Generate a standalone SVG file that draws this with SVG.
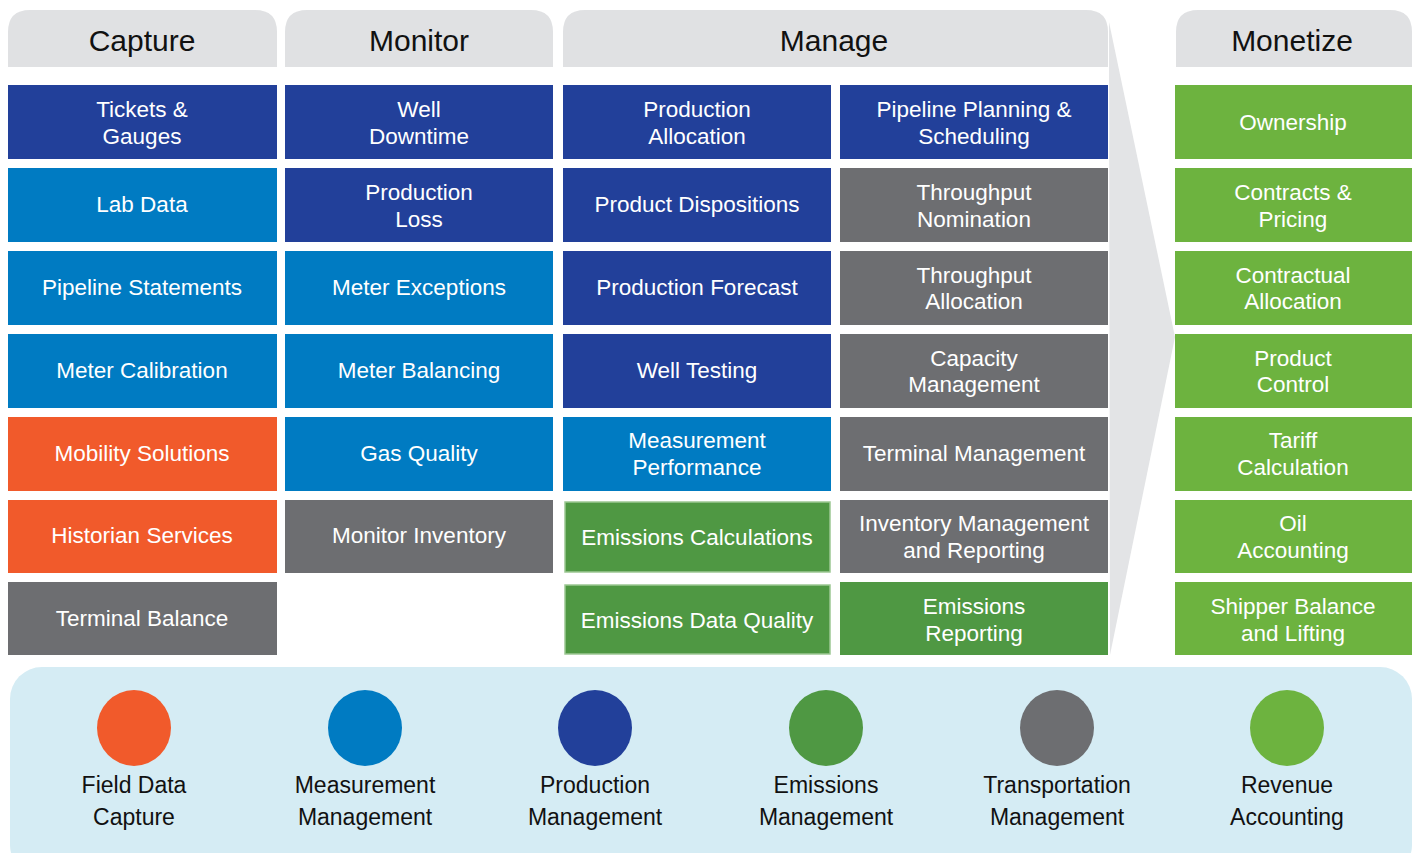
<svg xmlns="http://www.w3.org/2000/svg" width="1418" height="853" viewBox="0 0 1418 853">
<style>
.hdr{fill:#e0e1e3}
.ht{font-family:"Liberation Sans",Arial,sans-serif;font-size:30px;fill:#111;text-anchor:middle}
.bt{font-family:"Liberation Sans",Arial,sans-serif;font-size:22.5px;fill:#fff;text-anchor:middle}
.lt{font-family:"Liberation Sans",Arial,sans-serif;font-size:23px;fill:#111;text-anchor:middle}
.db{fill:#22409a}.mb{fill:#007bc2}.or{fill:#f15a2b}.gy{fill:#6d6e71}.eg{fill:#4f9843}.rg{fill:#6db33f}
.eb{stroke:#9cc793;stroke-width:1.5}
</style>
<rect width="1418" height="853" fill="#fff"/>
<g id="headers">
<path class="hdr" d="M8 67V32Q8 10 30 10H255Q277 10 277 32V67Z"/>
<text class="ht" x="142" y="51">Capture</text>
<path class="hdr" d="M285 67V32Q285 10 307 10H531Q553 10 553 32V67Z"/>
<text class="ht" x="419" y="51">Monitor</text>
<path class="hdr" d="M563 67V32Q563 10 585 10H1086Q1108 10 1108 32V67Z"/>
<text class="ht" x="834" y="51">Manage</text>
<path class="hdr" d="M1176 67V32Q1176 10 1198 10H1390Q1412 10 1412 32V67Z"/>
<text class="ht" x="1292" y="51">Monetize</text>
</g>
<polygon id="arrow" points="1109,22 1175,337 1110,655" fill="#e3e4e6"/>
<g id="capture">
<g id="n-tickets"><rect class="db" x="8" y="85" width="269" height="74"/><text class="bt" x="142" y="117">Tickets &amp;</text><text class="bt" x="142" y="144">Gauges</text></g>
<g id="n-lab"><rect class="mb" x="8" y="168" width="269" height="74"/><text class="bt" x="142" y="212">Lab Data</text></g>
<g id="n-pipeline-statements"><rect class="mb" x="8" y="251" width="269" height="74"/><text class="bt" x="142" y="295">Pipeline Statements</text></g>
<g id="n-meter-cal"><rect class="mb" x="8" y="334" width="269" height="74"/><text class="bt" x="142" y="378">Meter Calibration</text></g>
<g id="n-mobility"><rect class="or" x="8" y="417" width="269" height="74"/><text class="bt" x="142" y="461">Mobility Solutions</text></g>
<g id="n-historian"><rect class="or" x="8" y="500" width="269" height="73"/><text class="bt" x="142" y="543">Historian Services</text></g>
<g id="n-terminal-balance"><rect class="gy" x="8" y="582" width="269" height="73"/><text class="bt" x="142" y="626">Terminal Balance</text></g>
</g>
<g id="monitor">
<g id="n-well-downtime"><rect class="db" x="285" y="85" width="268" height="74"/><text class="bt" x="419" y="117">Well</text><text class="bt" x="419" y="144">Downtime</text></g>
<g id="n-prod-loss"><rect class="db" x="285" y="168" width="268" height="74"/><text class="bt" x="419" y="200">Production</text><text class="bt" x="419" y="227">Loss</text></g>
<g id="n-meter-exc"><rect class="mb" x="285" y="251" width="268" height="74"/><text class="bt" x="419" y="295">Meter Exceptions</text></g>
<g id="n-meter-bal"><rect class="mb" x="285" y="334" width="268" height="74"/><text class="bt" x="419" y="378">Meter Balancing</text></g>
<g id="n-gas-quality"><rect class="mb" x="285" y="417" width="268" height="74"/><text class="bt" x="419" y="461">Gas Quality</text></g>
<g id="n-monitor-inv"><rect class="gy" x="285" y="500" width="268" height="73"/><text class="bt" x="419" y="543">Monitor Inventory</text></g>
</g>
<g id="manage">
<g id="n-prod-alloc"><rect class="db" x="563" y="85" width="268" height="74"/><text class="bt" x="697" y="117">Production</text><text class="bt" x="697" y="144">Allocation</text></g>
<g id="n-prod-disp"><rect class="db" x="563" y="168" width="268" height="74"/><text class="bt" x="697" y="212">Product Dispositions</text></g>
<g id="n-prod-forecast"><rect class="db" x="563" y="251" width="268" height="74"/><text class="bt" x="697" y="295">Production Forecast</text></g>
<g id="n-well-testing"><rect class="db" x="563" y="334" width="268" height="74"/><text class="bt" x="697" y="378">Well Testing</text></g>
<g id="n-meas-perf"><rect class="mb" x="563" y="417" width="268" height="74"/><text class="bt" x="697" y="448">Measurement</text><text class="bt" x="697" y="475">Performance</text></g>
<g id="n-emis-calc"><rect class="eg eb" x="565" y="502" width="265" height="70"/><text class="bt" x="697" y="545">Emissions Calculations</text></g>
<g id="n-emis-dq"><rect class="eg eb" x="565" y="585" width="265" height="69"/><text class="bt" x="697" y="628">Emissions Data Quality</text></g>
<g id="n-pipe-plan"><rect class="db" x="840" y="85" width="268" height="74"/><text class="bt" x="974" y="117">Pipeline Planning &amp;</text><text class="bt" x="974" y="144">Scheduling</text></g>
<g id="n-tp-nom"><rect class="gy" x="840" y="168" width="268" height="74"/><text class="bt" x="974" y="200">Throughput</text><text class="bt" x="974" y="227">Nomination</text></g>
<g id="n-tp-alloc"><rect class="gy" x="840" y="251" width="268" height="74"/><text class="bt" x="974" y="283">Throughput</text><text class="bt" x="974" y="309">Allocation</text></g>
<g id="n-capacity"><rect class="gy" x="840" y="334" width="268" height="74"/><text class="bt" x="974" y="366">Capacity</text><text class="bt" x="974" y="392">Management</text></g>
<g id="n-terminal-mgmt"><rect class="gy" x="840" y="417" width="268" height="74"/><text class="bt" x="974" y="461">Terminal Management</text></g>
<g id="n-inventory"><rect class="gy" x="840" y="500" width="268" height="73"/><text class="bt" x="974" y="531">Inventory Management</text><text class="bt" x="974" y="558">and Reporting</text></g>
<g id="n-emis-rep"><rect class="eg" x="840" y="582" width="268" height="73"/><text class="bt" x="974" y="614">Emissions</text><text class="bt" x="974" y="641">Reporting</text></g>
</g>
<g id="monetize">
<g id="n-ownership"><rect class="rg" x="1175" y="85" width="237" height="74"/><text class="bt" x="1293" y="130">Ownership</text></g>
<g id="n-contracts"><rect class="rg" x="1175" y="168" width="237" height="74"/><text class="bt" x="1293" y="200">Contracts &amp;</text><text class="bt" x="1293" y="227">Pricing</text></g>
<g id="n-contractual"><rect class="rg" x="1175" y="251" width="237" height="74"/><text class="bt" x="1293" y="283">Contractual</text><text class="bt" x="1293" y="309">Allocation</text></g>
<g id="n-product-control"><rect class="rg" x="1175" y="334" width="237" height="74"/><text class="bt" x="1293" y="366">Product</text><text class="bt" x="1293" y="392">Control</text></g>
<g id="n-tariff"><rect class="rg" x="1175" y="417" width="237" height="74"/><text class="bt" x="1293" y="448">Tariff</text><text class="bt" x="1293" y="475">Calculation</text></g>
<g id="n-oil"><rect class="rg" x="1175" y="500" width="237" height="73"/><text class="bt" x="1293" y="531">Oil</text><text class="bt" x="1293" y="558">Accounting</text></g>
<g id="n-shipper"><rect class="rg" x="1175" y="582" width="237" height="73"/><text class="bt" x="1293" y="614">Shipper Balance</text><text class="bt" x="1293" y="641">and Lifting</text></g>
</g>
<g id="legend">
<rect x="10" y="667" width="1402" height="210" rx="32" fill="#d5ecf4"/>
<g id="l-field"><ellipse class="or" cx="134" cy="728" rx="37" ry="38"/><text class="lt" x="134" y="793">Field Data</text><text class="lt" x="134" y="825">Capture</text></g>
<g id="l-meas"><ellipse class="mb" cx="365" cy="728" rx="37" ry="38"/><text class="lt" x="365" y="793">Measurement</text><text class="lt" x="365" y="825">Management</text></g>
<g id="l-prod"><ellipse class="db" cx="595" cy="728" rx="37" ry="38"/><text class="lt" x="595" y="793">Production</text><text class="lt" x="595" y="825">Management</text></g>
<g id="l-emis"><ellipse class="eg" cx="826" cy="728" rx="37" ry="38"/><text class="lt" x="826" y="793">Emissions</text><text class="lt" x="826" y="825">Management</text></g>
<g id="l-trans"><ellipse class="gy" cx="1057" cy="728" rx="37" ry="38"/><text class="lt" x="1057" y="793">Transportation</text><text class="lt" x="1057" y="825">Management</text></g>
<g id="l-rev"><ellipse class="rg" cx="1287" cy="728" rx="37" ry="38"/><text class="lt" x="1287" y="793">Revenue</text><text class="lt" x="1287" y="825">Accounting</text></g>
</g>
<g id="connectors"/>
</svg>
